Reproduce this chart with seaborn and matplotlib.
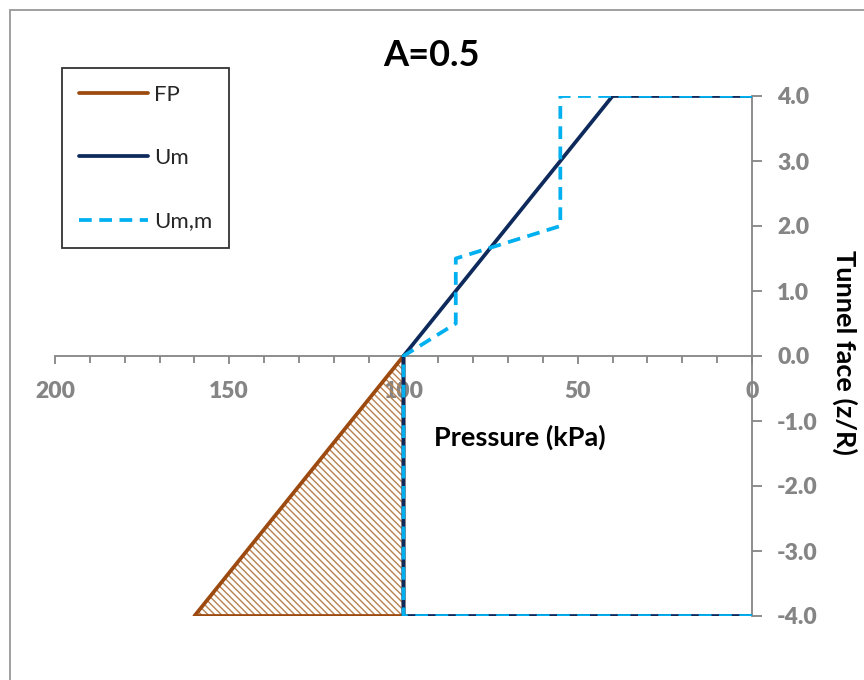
import matplotlib
matplotlib.use("Agg")
import matplotlib.pyplot as plt
from matplotlib.lines import Line2D
from matplotlib.patches import Rectangle
from matplotlib.ticker import MultipleLocator, FormatStrFormatter
import seaborn as sns
import pandas as pd

# Face pressure profiles (pressure in kPa, position along tunnel face z/R)
fp_pressure = [100, 160, 100, 100]
fp_z = [0, -4, -4, 0]

um_pressure = [0, 100, 100, 40, 0]
um_z = [-4, -4, 0, 4, 4]

umm_pressure = [0, 100, 100, 85, 85, 55, 55, 0]
umm_z = [-4, -4, 0, 0.5, 1.5, 2, 4, 4]

series_labels = ["FP", "Um", "Um,m"]
title_text = "A=0.5"

BROWN = "#9C4A10"
NAVY = "#0E2A5C"
SKY = "#00B0F0"
GRAY = "#858585"
LW = 2.7
DASH = (0, (3.4, 2.0))

sns.set_theme(style="white")
plt.rcParams["font.family"] = ["Lato", "DejaVu Sans"]
plt.rcParams["hatch.linewidth"] = 1.0

fig = plt.figure(figsize=(8.64, 6.8), dpi=100)
ax = fig.add_axes([55 / 864, 1 - 616 / 680, (752 - 55) / 864, (616 - 96) / 680])

# Hatched region under the face pressure profile
ax.fill(fp_pressure, fp_z, facecolor="none", edgecolor="#B8804F", hatch="\\\\\\\\\\",
        linewidth=0, zorder=1)

fp_df = pd.DataFrame({"p": fp_pressure, "z": fp_z})
um_df = pd.DataFrame({"p": um_pressure, "z": um_z})
umm_df = pd.DataFrame({"p": umm_pressure, "z": umm_z})

sns.lineplot(data=fp_df, x="p", y="z", sort=False, estimator=None, ax=ax,
             color=BROWN, linewidth=LW, zorder=3)
sns.lineplot(data=um_df, x="p", y="z", sort=False, estimator=None, ax=ax,
             color=NAVY, linewidth=LW, zorder=4)
sns.lineplot(data=umm_df, x="p", y="z", sort=False, estimator=None, ax=ax,
             color=SKY, linewidth=LW, linestyle=DASH, zorder=5)

ax.set_xlim(200, 0)
ax.set_ylim(-4, 4)
ax.set_xlabel("")
ax.set_ylabel("")

# Axes: x axis crossing at z=0, z axis on the right at zero pressure
for side in ("top", "left"):
    ax.spines[side].set_visible(False)
ax.spines["bottom"].set_position(("data", 0))
for side in ("bottom", "right"):
    ax.spines[side].set_color(GRAY)
    ax.spines[side].set_linewidth(1.3)
    ax.spines[side].set_zorder(2)

ax.xaxis.set_major_locator(MultipleLocator(50))
ax.xaxis.set_minor_locator(MultipleLocator(10))
ax.yaxis.set_major_locator(MultipleLocator(1))
ax.yaxis.set_major_formatter(FormatStrFormatter("%.1f"))
ax.yaxis.tick_right()

ax.tick_params(axis="x", which="major", direction="out", length=6, width=1.3,
               color=GRAY, labelcolor=GRAY, labelsize=16.5, pad=12,
               bottom=True)
ax.tick_params(axis="x", which="minor", direction="out", length=5, width=1.3,
               color=GRAY, bottom=True)
ax.tick_params(axis="y", which="major", direction="out", length=7, width=1.3,
               color=GRAY, labelcolor=GRAY, labelsize=16.5, pad=11,
               right=True, left=False)
for lbl in ax.get_xticklabels() + ax.get_yticklabels():
    lbl.set_fontweight("heavy")

# Legend
handles = [
    Line2D([], [], color=BROWN, linewidth=LW),
    Line2D([], [], color=NAVY, linewidth=LW),
    Line2D([], [], color=SKY, linewidth=LW, linestyle=DASH),
]
leg = fig.legend(handles, series_labels, loc="upper left",
                 bbox_to_anchor=(62 / 864, 1 - 68 / 680), fontsize=16,
                 frameon=True, fancybox=False, edgecolor="black",
                 handlelength=3.1, handletextpad=0.3, labelspacing=1.95,
                 borderpad=0.75, borderaxespad=0)
leg.get_frame().set_linewidth(1.3)

# Titles and axis labels
fig.text(431 / 864, 1 - 55 / 680, title_text, ha="center", va="center",
         fontsize=26, fontweight="bold", color="black")
fig.text(520 / 864, 1 - 437 / 680, "Pressure (kPa)", ha="center", va="center",
         fontsize=19.5, fontweight="bold", color="black")
fig.text(845 / 864, 1 - 352 / 680, "Tunnel face (z/R)", ha="center",
         va="center", rotation=-90, fontsize=19.5, fontweight="bold",
         color="black")

# Chart border
fig.patches.append(Rectangle((10 / 864, -0.05), 1.0, 1 - 10 / 680 + 0.05,
                             transform=fig.transFigure, fill=False,
                             edgecolor="#A0A0A0", linewidth=1.4, zorder=0))

fig.savefig("out.png", dpi=100)
